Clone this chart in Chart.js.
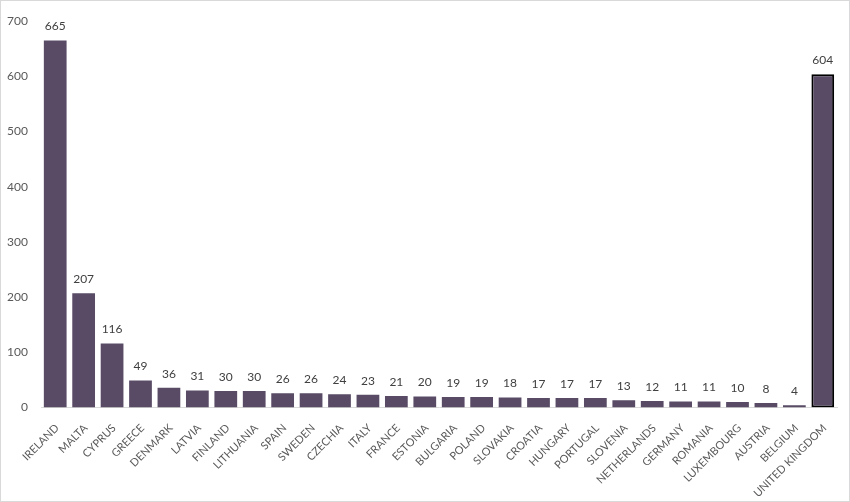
<!DOCTYPE html>
<html><head><meta charset="utf-8">
<script src="https://cdn.jsdelivr.net/npm/chart.js@4.4.0/dist/chart.umd.min.js"></script>
<style>
html,body{margin:0;padding:0;background:#fff;}
#wrap{position:relative;width:850px;height:502px;box-sizing:border-box;border:1px solid #d9d9d9;}
</style></head>
<body><div id="wrap"><canvas id="c"></canvas></div>
<script>
const categories = ["IRELAND","MALTA","CYPRUS","GREECE","DENMARK","LATVIA","FINLAND","LITHUANIA","SPAIN","SWEDEN","CZECHIA","ITALY","FRANCE","ESTONIA","BULGARIA","POLAND","SLOVAKIA","CROATIA","HUNGARY","PORTUGAL","SLOVENIA","NETHERLANDS","GERMANY","ROMANIA","LUXEMBOURG","AUSTRIA","BELGIUM","UNITED KINGDOM"];
const values = [665,207,116,49,36,31,30,30,26,26,24,23,21,20,19,19,18,17,17,17,13,12,11,11,10,8,4,604];
const yTicks = [0,100,200,300,400,500,600,700];

const barColor = '#594b66';
const borderColors = categories.map(c => c === 'UNITED KINGDOM' ? '#000000' : barColor);
const borderWidths = categories.map(c => c === 'UNITED KINGDOM' ? 2 : 0);

const labelPlugin = {
  id: 'valueLabels',
  afterDatasetsDraw(chart) {
    const ctx = chart.ctx;
    const meta = chart.getDatasetMeta(0);
    ctx.save();
    ctx.font = '12px Lato, "Open Sans", sans-serif';
    ctx.fillStyle = '#404040';
    ctx.textAlign = 'center';
    ctx.textBaseline = 'bottom';
    meta.data.forEach((bar, i) => {
      ctx.fillText(String(values[i]), bar.x, bar.y - 8);
    });
    ctx.restore();
  }
};

new Chart(document.getElementById('c'), {
  type: 'bar',
  data: {
    labels: categories,
    datasets: [{
      data: values,
      backgroundColor: barColor,
      borderColor: borderColors,
      borderWidth: borderWidths,
      borderSkipped: false,
      barPercentage: 0.8,
      categoryPercentage: 1.0
    }]
  },
  options: {
    responsive: true,
    maintainAspectRatio: false,
    animation: false,
    layout: { padding: { left: 6, right: 12, top: 12.5, bottom: 0 } },
    plugins: { legend: { display: false }, tooltip: { enabled: false } },
    scales: {
      x: {
        grid: { display: false, drawTicks: false },
        border: { display: true, color: '#d9d9d9', width: 1 },
        afterFit(scale) { scale.paddingLeft = 0; scale.paddingRight = 0; scale.height = 93.5; },
        ticks: {
          color: '#595959',
          font: { size: 11, family: 'Lato, "Open Sans", sans-serif' },
          maxRotation: 45, minRotation: 45, autoSkip: false, padding: 14, labelOffset: 2
        }
      },
      y: {
        min: 0, max: 700,
        afterBuildTicks(axis) { axis.ticks = yTicks.map(v => ({ value: v })); },
        afterFit(scale) { scale.width = 34; },
        grid: { display: false, drawTicks: false },
        border: { display: false },
        ticks: {
          color: '#595959',
          font: { size: 12, family: 'Lato, "Open Sans", sans-serif' },
          padding: 13
        }
      }
    }
  },
  plugins: [labelPlugin]
});
</script></body></html>
